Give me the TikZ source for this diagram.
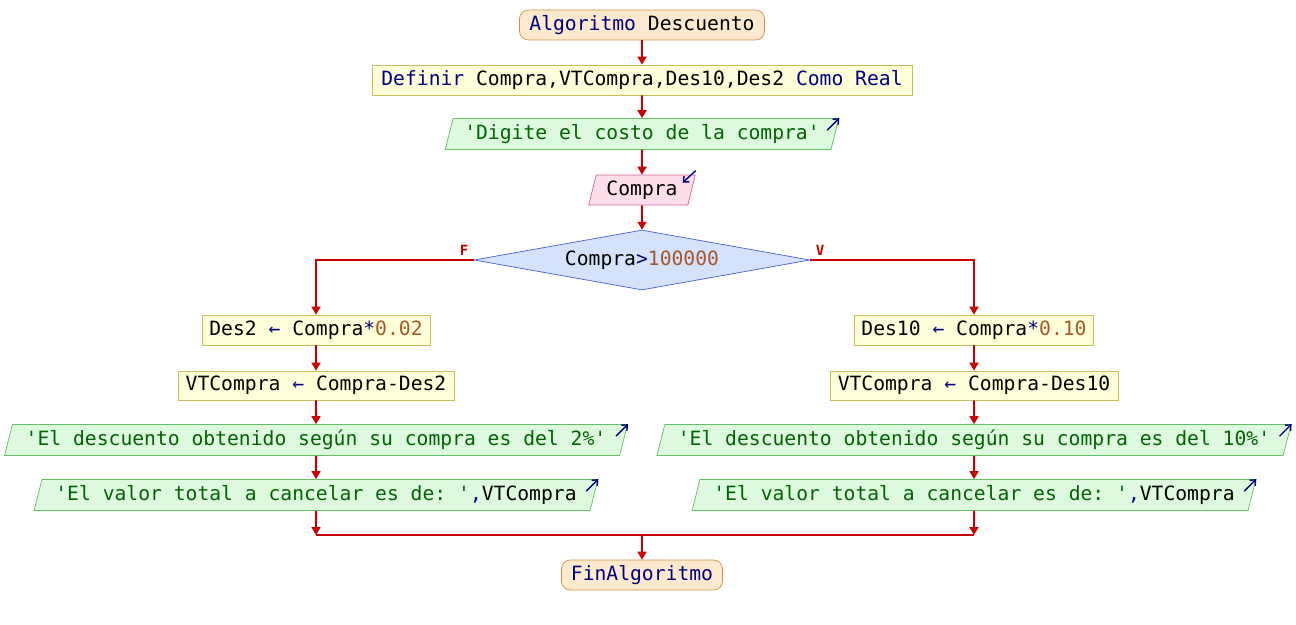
\documentclass[tikz,border=0pt]{standalone}
\usepackage{fontspec}
\setmonofont{DejaVu Sans Mono}
\usetikzlibrary{arrows.meta,shapes.geometric,positioning}
\definecolor{flowC}{RGB}{200,0,0}
\definecolor{kwC}{RGB}{0,0,128}
\definecolor{strC}{RGB}{0,100,0}
\definecolor{numC}{RGB}{170,85,40}
\definecolor{startC}{RGB}{253,234,206}
\definecolor{startD}{RGB}{205,145,70}
\definecolor{procC}{RGB}{255,255,218}
\definecolor{procD}{RGB}{200,190,90}
\definecolor{outC}{RGB}{222,250,222}
\definecolor{outD}{RGB}{100,190,100}
\definecolor{inC}{RGB}{255,222,236}
\definecolor{inD}{RGB}{200,100,150}
\definecolor{condC}{RGB}{212,226,252}
\definecolor{condD}{RGB}{70,100,200}
\newcommand{\kwtxt}[1]{\textcolor{kwC}{#1}}
\newcommand{\strtxt}[1]{\textcolor{strC}{#1}}
\newcommand{\numtxt}[1]{\textcolor{numC}{#1}}

\begin{document}
\begin{tikzpicture}[x=0.02cm, y=-0.02cm,
  every node/.style={font=\ttfamily\fontsize{11.2}{13}\selectfont, inner sep=0pt},
  startbox/.style={draw=startD, fill=startC, rounded corners=5pt, minimum height=0.6cm},
  procbox/.style={draw=procD, fill=procC, minimum height=0.6cm},
  outbox/.style={trapezium, trapezium left angle=69, trapezium right angle=111,
    trapezium stretches=true, draw=outD, fill=outC, minimum height=0.62cm},
  inbox/.style={trapezium, trapezium left angle=73, trapezium right angle=107,
    trapezium stretches=true, draw=inD, fill=inC, minimum height=0.6cm},
  condbox/.style={diamond, aspect=5.6, draw=condD, fill=condC},
  flow/.style={flowC, line width=1.1pt, -{Triangle[width=5pt,length=4.5pt]}},
  joinline/.style={flowC, line width=1.1pt},
  icon/.style={kwC, line width=0.8pt, -{Straight Barb[length=2.5pt,width=4.5pt]}},
  lbl/.style={text=flowC, font=\ttfamily\bfseries\fontsize{8}{9}\selectfont}
]
\useasboundingbox (0,0) rectangle (1296,625);

% Top part
\node[startbox, minimum width=4.9cm] (inicio) at (642,25) {\kwtxt{Algoritmo} Descuento};
\node[procbox, minimum width=10.8cm] (defin) at (642,80) {\kwtxt{Definir} Compra,VTCompra,Des10,Des2 \kwtxt{Como Real}};
\node[outbox, minimum width=7.9cm] (msg1) at (642,134) {\strtxt{'Digite el costo de la compra'}};
\node[inbox, minimum width=2.14cm] (leer) at (642,190) {Compra};
\node[condbox, minimum width=6.72cm, minimum height=1.2cm] (cond) at (642,260) {Compra\kwtxt{>}\numtxt{100000}};
\node[lbl] (lblF) at (464,250) {F};
\node[lbl] (lblV) at (820,250) {V};

% Left branch (F)
\node[procbox, minimum width=4.56cm] (des2) at (316,330) {Des2 \kwtxt{←} Compra\kwtxt{*}\numtxt{0.02}};
\node[procbox, minimum width=5.52cm, minimum height=0.58cm] (vt2) at (316,385.5) {VTCompra \kwtxt{←} Compra-Des2};
\node[outbox, minimum width=12.48cm] (msg2) at (316,440) {\strtxt{'El descuento obtenido según su compra es del 2\%'}};
\node[outbox, minimum width=11.32cm] (tot2) at (316,495) {\strtxt{'El valor total a cancelar es de: '}\kwtxt{,}VTCompra};

% Right branch (V)
\node[procbox, minimum width=4.78cm] (des10) at (974,330) {Des10 \kwtxt{←} Compra\kwtxt{*}\numtxt{0.10}};
\node[procbox, minimum width=5.76cm, minimum height=0.58cm] (vt10) at (974,385.5) {VTCompra \kwtxt{←} Compra-Des10};
\node[outbox, minimum width=12.72cm] (msg10) at (974,440) {\strtxt{'El descuento obtenido según su compra es del 10\%'}};
\node[outbox, minimum width=11.32cm] (tot10) at (974,495) {\strtxt{'El valor total a cancelar es de: '}\kwtxt{,}VTCompra};

% End
\coordinate (juntaI) at (316,535);
\coordinate (juntaD) at (974,535);
\coordinate (junta) at (642,535);
\node[startbox, minimum width=3.22cm] (fin) at (642,575) {\kwtxt{FinAlgoritmo}};

% Connectors
\draw[flow] (inicio) -- (defin);
\draw[flow] (defin) -- (msg1);
\draw[flow] (msg1) -- (leer);
\draw[flow] (leer) -- (cond);
\draw[flow] (cond.west) -| (des2.north);
\draw[flow] (cond.east) -| (des10.north);
\draw[flow] (des2) -- (vt2);
\draw[flow] (vt2) -- (msg2);
\draw[flow] (msg2) -- (tot2);
\draw[flow] (tot2) -- (juntaI);
\draw[flow] (des10) -- (vt10);
\draw[flow] (vt10) -- (msg10);
\draw[flow] (msg10) -- (tot10);
\draw[flow] (tot10) -- (juntaD);
\draw[joinline] (juntaI) -- (juntaD);
\draw[flow] (junta) -- (fin);

% In/out marks
\draw[icon] ([shift={(-12,12)}]msg1.top right corner) -- (msg1.top right corner);
\draw[icon] ([shift={(-12,12)}]msg2.top right corner) -- (msg2.top right corner);
\draw[icon] ([shift={(-12,12)}]tot2.top right corner) -- (tot2.top right corner);
\draw[icon] ([shift={(-12,12)}]msg10.top right corner) -- (msg10.top right corner);
\draw[icon] ([shift={(-12,12)}]tot10.top right corner) -- (tot10.top right corner);
\draw[icon] ([shift={(0,-4)}]leer.top right corner) -- ([shift={(-13,8)}]leer.top right corner);
\end{tikzpicture}
\end{document}
